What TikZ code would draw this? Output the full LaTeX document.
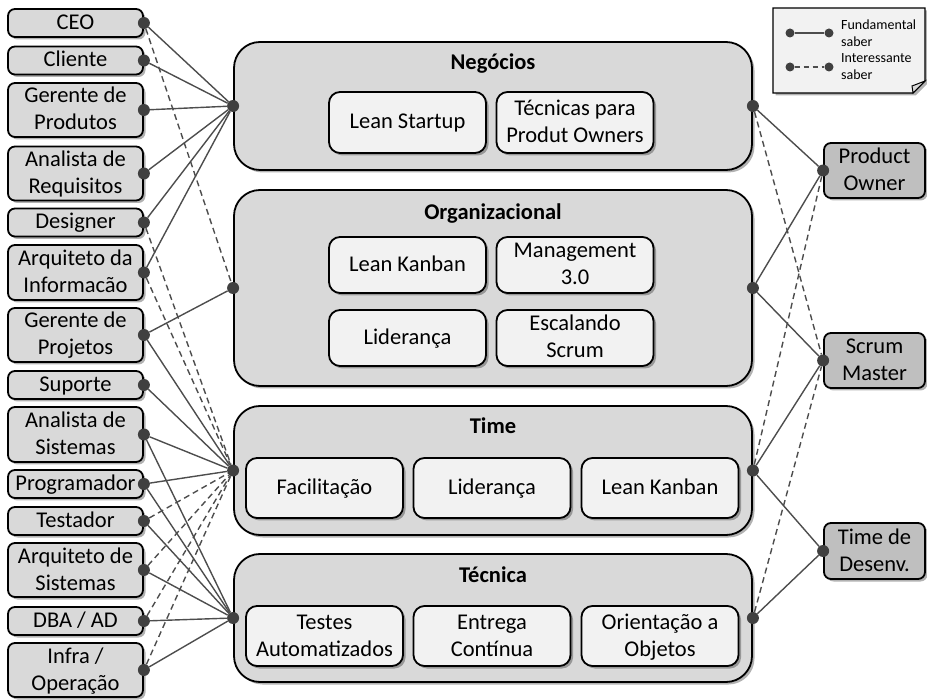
\documentclass[tikz,border=0pt]{standalone}
\usepackage{fontspec}
\setmainfont{Carlito}
\usetikzlibrary{shadows}
\definecolor{grpfill}{HTML}{D9D9D9}
\definecolor{itemfill}{HTML}{F2F2F2}
\definecolor{rolefill}{HTML}{D9D9D9}
\definecolor{teamfill}{HTML}{BFBFBF}
\definecolor{linkgray}{HTML}{4D4D4D}
\definecolor{dotgray}{HTML}{404040}
\newcommand{\txtsize}{\fontsize{22.5}{27}\selectfont}
\newcommand{\ls}{\rule[-7pt]{0pt}{27pt}}
\tikzset{
  shd/.style={drop shadow={shadow xshift=2.5pt, shadow yshift=-2.5pt, fill=black, opacity=.3}},
  role/.style={draw, line width=1.8pt, rounded corners=7pt, fill=rolefill, minimum width=135pt,
    align=center, inner sep=0pt, font=\txtsize, shd},
  team/.style={role, fill=teamfill, minimum width=101pt},
  grp/.style={draw, line width=1.8pt, rounded corners=26pt, fill=grpfill, minimum width=518pt, shd},
  item/.style={draw, line width=1.8pt, rounded corners=11pt, fill=itemfill, minimum width=157pt,
    align=center, inner sep=0pt, font=\txtsize, shd},
  ttl/.style={font=\txtsize\bfseries},
  dot/.style={circle, fill=dotgray, inner sep=0pt, minimum size=12pt},
  ldot/.style={dot, minimum size=9pt},
  fund/.style={linkgray, line width=1.4pt},
  inter/.style={fund, dash pattern=on 6pt off 4pt},
  lgd/.style={font=\fontsize{14}{17}\selectfont, align=left, anchor=west, inner sep=0pt},
}

\begin{document}
\begin{tikzpicture}[x=1pt, y=-1pt]
\useasboundingbox (0,0) rectangle (927,700);

% areas
\node[grp, minimum height=128pt] (neg) at (493,106) {};
\node[grp, minimum height=196pt] (org) at (493,288) {};
\node[grp, minimum height=129pt] (tim) at (493,470.5) {};
\node[grp, minimum height=128pt] (tec) at (493,618) {};
\node[ttl] (negt) at (493,63) {\ls Negócios};
\node[ttl] (orgt) at (493,213) {\ls Organizacional};
\node[ttl] (timt) at (493,427) {\ls Time};
\node[ttl] (tect) at (493,576) {\ls Técnica};

\foreach \x/\y/\h/\nm/\txt in {
    407.5/122.5/61pt/lst/{Lean Startup}, 575/122.5/61pt/tpo/{Técnicas para\\Produt Owners},
    407.5/265/56pt/lkb/{Lean Kanban}, 575/265/56pt/m30/{Management\\3.0},
    407.5/338/56pt/lid/{Liderança}, 575/338/56pt/esc/{Escalando\\Scrum},
    324.5/488/60pt/fac/{Facilitação}, 492/488/60pt/lidt/{Liderança}, 660/488/60pt/lkbt/{Lean Kanban},
    324.5/636/60pt/tau/{Testes\\Automatizados}, 492/636/60pt/ecn/{Entrega\\Contínua},
    660/636/60pt/oob/{Orientação a\\Objetos}}
  \node[item, minimum height=\h] (\nm) at (\x,\y) {\ls\txt\ls};

% roles
\foreach \y/\nm/\h/\txt in {
    23/ceo/28pt/CEO, 60.5/cli/28pt/Cliente, 110/gpr/54pt/{Gerente de\\Produtos},
    173.5/are/54pt/{Analista de\\Requisitos}, 222.5/des/28pt/Designer,
    272.5/ain/55pt/{Arquiteto da\\Informacão}, 335/gpj/54pt/{Gerente de\\Projetos},
    385/sup/28pt/Suporte, 434.5/asi/55pt/{Analista de\\Sistemas}, 484/prg/28pt/Programador,
    521/tst/28pt/Testador, 570/asy/54pt/{Arquiteto de\\Sistemas}, 621/dba/28pt/{DBA / AD},
    670/inf/54pt/{Infra /\\Operação}}
  \node[role, minimum height=\h] (\nm) at (75.5,\y) {\ls\txt\ls};

\node[team, minimum height=55pt] (po) at (874.5,170.5) {\ls Product\\Owner\ls};
\node[team, minimum height=55pt] (sm) at (874.5,360.5) {\ls Scrum\\Master\ls};
\node[team, minimum height=56pt] (td) at (874.5,551) {\ls Time de\\Desenv.\ls};

% dots
\foreach \nm in {ceo,cli,gpr,are,des,ain,gpj,sup,asi,prg,tst,asy,dba,inf}
  \node[dot] (\nm-d) at (\nm.east) {};
\foreach \nm in {po,sm,td}
  \node[dot] (\nm-d) at (\nm.west) {};
\foreach \nm in {neg,org,tim,tec}{
  \node[dot] (\nm-l) at (\nm.west) {};
  \node[dot] (\nm-r) at (\nm.east) {};}

% links
\foreach \a/\b in {ceo/neg, cli/neg, gpr/neg, are/neg, des/neg, ain/neg, gpj/org, gpj/tim,
    sup/tim, asi/tim, prg/tim, asi/tec, prg/tec, tst/tec, asy/tec, dba/tec, inf/tec}
  \draw[fund] (\a-d) -- (\b-l);
\foreach \a/\b in {ceo/org, des/tim, ain/tim, tst/tim, asy/tim, dba/tim, inf/tim}
  \draw[inter] (\a-d) -- (\b-l);
\foreach \a/\b in {neg/po, org/po, org/sm, tim/sm, tim/td, tec/td}
  \draw[fund] (\a-r) -- (\b-d);
\foreach \a/\b in {neg/sm, tim/po, tec/sm}
  \draw[inter] (\a-r) -- (\b-d);

% legend
\draw[line width=1.2pt, fill=itemfill, shd] (773,8) -- (925,8) -- (925,81) -- (913,93)
  -- (773,93) -- cycle;
\draw[line width=1pt, fill=grpfill] (925,81) -- (912,86) -- (913,93) -- cycle;
\node[ldot] (lfa) at (790,33) {};
\node[ldot] (lfb) at (829,33) {};
\node[ldot] (lia) at (790,67) {};
\node[ldot] (lib) at (829,67) {};
\draw[fund, line width=1.1pt] (lfa) -- (lfb);
\draw[fund, line width=1.1pt, dash pattern=on 5pt off 4pt] (lia) -- (lib);
\node[lgd] (lft) at (841,33) {Fundamental\\saber};
\node[lgd] (lit) at (841,67) {Interessante\\saber};
\end{tikzpicture}
\end{document}
